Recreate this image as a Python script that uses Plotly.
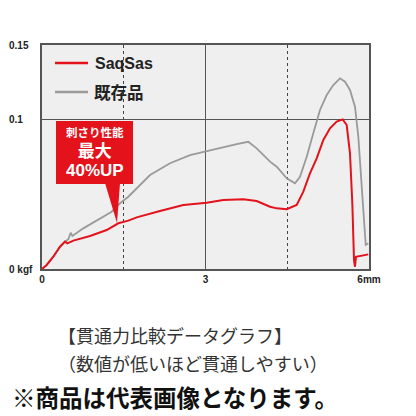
import plotly.graph_objects as go

# Data
saqsas_x = [0, 0.086, 0.207, 0.33, 0.422, 0.465, 0.575, 0.881, 1.187, 1.4, 1.584, 1.738, 2.165,
            2.593, 3.022, 3.327, 3.694, 3.939, 4.184, 4.307, 4.49, 4.673, 4.795, 4.917, 5.04,
            5.162, 5.284, 5.407, 5.517, 5.591, 5.651, 5.694, 5.725, 5.743, 5.761, 5.987]
saqsas_y = [0, 0.0027, 0.0082, 0.0149, 0.0183, 0.0172, 0.019, 0.0221, 0.0261, 0.0306, 0.0324,
            0.0346, 0.0388, 0.0429, 0.0444, 0.0462, 0.0467, 0.0455, 0.0417, 0.0406, 0.04, 0.0429,
            0.0518, 0.0641, 0.0741, 0.0864, 0.0942, 0.0987, 0.1002, 0.0964, 0.0775, 0.044, 0.006,
            0.0015, 0.0082, 0.0098]
existing_x = [0, 0.086, 0.207, 0.33, 0.422, 0.483, 0.526, 0.557, 0.758, 1.064, 1.278, 1.431,
              1.584, 1.982, 2.349, 2.716, 3.022, 3.327, 3.572, 3.785, 3.939, 4.184, 4.307, 4.49,
              4.642, 4.734, 4.857, 4.978, 5.101, 5.224, 5.345, 5.468, 5.56, 5.651, 5.743, 5.804,
              5.866, 5.908, 5.94, 5.987]
existing_y = [0, 0.0027, 0.0082, 0.0149, 0.0183, 0.0199, 0.0243, 0.0221, 0.0272, 0.0339, 0.0384,
              0.044, 0.0484, 0.0629, 0.0708, 0.0763, 0.079, 0.0815, 0.0837, 0.0852, 0.0808, 0.0719,
              0.0685, 0.0607, 0.0574, 0.0618, 0.0752, 0.0909, 0.1065, 0.1165, 0.1232, 0.1277,
              0.1254, 0.1199, 0.1087, 0.0886, 0.0551, 0.0283, 0.0161, 0.0172]
x_ticks = [0, 3, 6]
x_tick_text = ["0", "3", "6mm"]
y_ticks = [0, 0.1, 0.15]
y_tick_text = ["0 kgf", "0.1", "0.15"]

RED = "#e3121b"
GRAY = "#9a9a9a"
BOLD = "Liberation Sans"
JP = "Noto Sans CJK JP"

fig = go.Figure()
fig.add_trace(go.Scatter(x=existing_x, y=existing_y, mode="lines", name="既存品",
                         line=dict(color=GRAY, width=1.8), showlegend=False))
fig.add_trace(go.Scatter(x=saqsas_x, y=saqsas_y, mode="lines", name="SaqSas",
                         line=dict(color=RED, width=2), showlegend=False))

L, R, T, B = 42, 369, 45, 269
W = R - L
H = B - T
def px(x):
    return (x - L) / W
def py(y):
    return (B - y) / H

shapes = []
# legend samples
shapes.append(dict(type="line", xref="paper", yref="paper", x0=px(55), x1=px(88), y0=py(63), y1=py(63),
                   line=dict(color=RED, width=2.5)))
shapes.append(dict(type="line", xref="paper", yref="paper", x0=px(55), x1=px(88), y0=py(92), y1=py(92),
                   line=dict(color=GRAY, width=2.5)))
# callout box
shapes.append(dict(type="rect", xref="paper", yref="paper", x0=px(56), x1=px(133), y0=py(184), y1=py(121),
                   fillcolor=RED, line=dict(width=0), layer="above"))
path = "M {} {} L {} {} L {} {} Z".format(px(105), py(183), px(120), py(183), px(117), py(223))
shapes.append(dict(type="path", xref="paper", yref="paper", path=path, fillcolor=RED,
                   line=dict(width=0), layer="above"))

annotations = []
annotations.append(dict(xref="paper", yref="paper", x=px(93), y=py(63), xanchor="left", yanchor="middle",
                        text="<b>SaqSas</b>", showarrow=False, font=dict(family=BOLD, size=16, color="#222")))
annotations.append(dict(xref="paper", yref="paper", x=px(92), y=py(92), xanchor="left", yanchor="middle",
                        text="<b>既存品</b>", showarrow=False, font=dict(family=JP, size=16.5, color="#222")))
callout = ("<span style='font-size:11.5px'><b>刺さり性能</b></span><br>"
           "<span style='font-size:17px'><b>最大</b></span><br>"
           "<span style=\"font-size:17px;font-family:'Liberation Sans'\"><b>40%UP</b></span>")
annotations.append(dict(xref="paper", yref="paper", x=px(94.5), y=py(152), xanchor="center", yanchor="middle",
                        text=callout, showarrow=False, align="center",
                        font=dict(family=JP, size=15, color="white")))
for v, t in zip(y_ticks, y_tick_text):
    annotations.append(dict(xref="paper", yref="y", x=px(7), y=v, xanchor="left", yanchor="middle",
                            text="<b>" + t + "</b>", showarrow=False, font=dict(family=BOLD, size=10, color="#222")))
# bottom notes
annotations.append(dict(xref="paper", yref="paper", x=px(56), y=py(335), xanchor="left", yanchor="middle",
                        text="【貫通力比較データグラフ】", showarrow=False,
                        font=dict(family=JP, size=18, color="#333")))
annotations.append(dict(xref="paper", yref="paper", x=px(56), y=py(363), xanchor="left", yanchor="middle",
                        text="（数値が低いほど貫通しやすい）", showarrow=False,
                        font=dict(family=JP, size=18, color="#333")))
annotations.append(dict(xref="paper", yref="paper", x=px(10), y=py(397), xanchor="left", yanchor="middle",
                        text="<b>※商品は代表画像となります。</b>", showarrow=False,
                        font=dict(family=JP, size=23.5, color="#111")))

fig.update_layout(
    width=416, height=416,
    margin=dict(l=L, r=416 - R, t=T, b=416 - B, autoexpand=False),
    paper_bgcolor="white", plot_bgcolor="#efefef",
    shapes=shapes, annotations=annotations,
    xaxis=dict(range=[0, 6], tickvals=x_ticks, ticktext=x_tick_text, showgrid=True,
               gridcolor="#555", gridwidth=1.2, zeroline=False, showline=True, mirror=True,
               linecolor="#555", linewidth=1.5, ticks="",
               tickfont=dict(family=BOLD, size=10, color="#222", weight="bold"),
               minor=dict(tickvals=[1.5, 4.5], showgrid=True, gridcolor="#444", griddash="dot", gridwidth=1)),
    yaxis=dict(range=[0, 0.15], tickvals=y_ticks, showticklabels=False, showgrid=True,
               gridcolor="#555", gridwidth=1.2, zeroline=False, showline=True, mirror=True,
               linecolor="#555", linewidth=1.5, ticks=""),
)
fig.write_html("out.html", config={"displayModeBar": False},
               post_script="document.body.style.margin='0';document.body.style.overflow='hidden';")
